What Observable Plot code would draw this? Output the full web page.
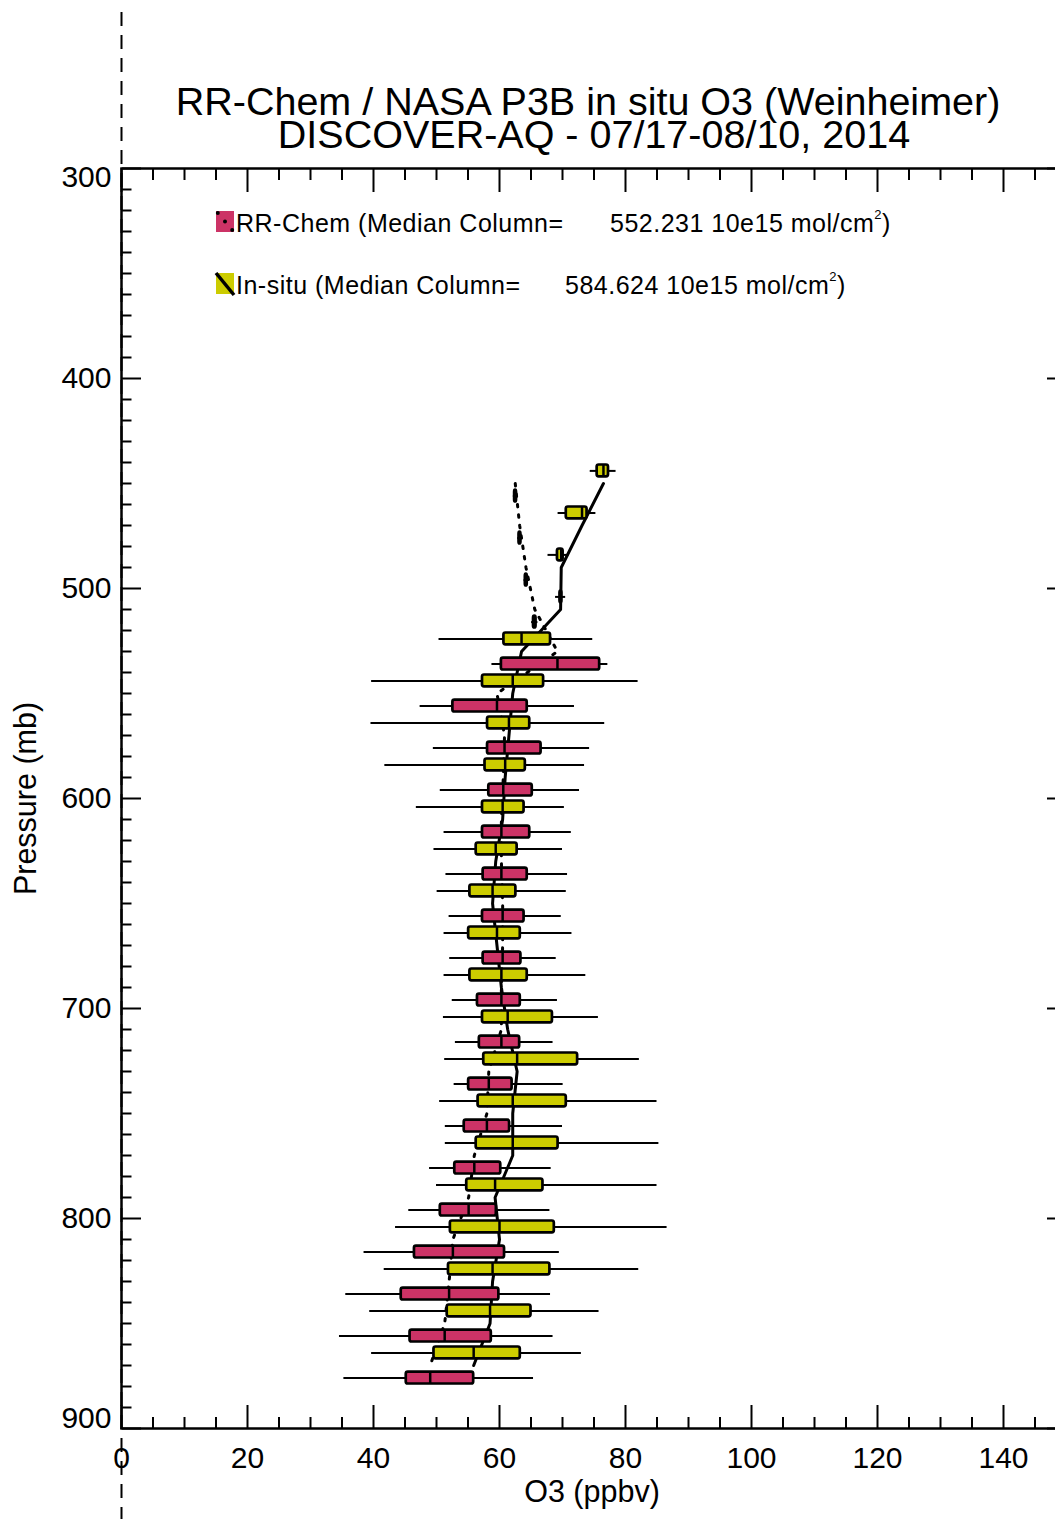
<!DOCTYPE html>
<html>
<head>
<meta charset="utf-8">
<script src="https://cdn.jsdelivr.net/npm/d3@7"></script>
<script src="https://cdn.jsdelivr.net/npm/@observablehq/plot@0.6"></script>
<style>
  html, body { margin: 0; padding: 0; background: #fff; overflow: hidden; }
  #chart svg { display: block; }
</style>
</head>
<body>
<div id="chart"></div>
<script>
// Pressure-bin centres (mb)
const binCenters = [450, 470, 490, 510, 530, 550, 570, 590, 610, 630, 650, 670, 690, 710, 730, 750, 770, 790, 810, 830, 850, 870];

// NASA P3B in-situ O3 (ppbv): whisker low, lower quartile, median, upper quartile, whisker high
const insituLow  = [74.4, 69.3, 67.7, 68.9, 50.4, 39.7, 39.6, 41.8, 46.8, 49.6, 50.1, 51.2, 51.2, 51.1, 51.3, 50.5, 51.4, 50.0, 43.5, 41.7, 39.4, 39.7];
const insituQ1   = [75.5, 70.6, 69.2, 69.6, 60.7, 57.3, 58.1, 57.7, 57.3, 56.3, 55.3, 55.1, 55.3, 57.3, 57.5, 56.6, 56.3, 54.8, 52.2, 51.9, 51.7, 49.6];
const insituMed  = [76.5, 73.1, 69.8, 69.7, 63.5, 62.1, 61.5, 60.9, 60.5, 59.4, 58.9, 59.6, 60.3, 61.3, 62.8, 62.1, 62.1, 59.3, 60.0, 58.9, 58.5, 55.9];
const insituQ3   = [77.3, 73.9, 70.1, 69.9, 68.1, 67.0, 64.8, 64.1, 63.9, 62.8, 62.6, 63.3, 64.4, 68.4, 72.4, 70.6, 69.3, 66.9, 68.7, 68.0, 65.0, 63.3];
const insituHigh = [78.5, 75.3, 71.0, 70.5, 74.8, 82.0, 76.7, 73.5, 70.3, 70.0, 70.6, 71.5, 73.7, 75.7, 82.2, 85.0, 85.3, 85.0, 86.6, 82.1, 75.8, 73.0];

// RR-Chem model O3 (ppbv) sampled along the flight tracks
const rrLow  = [62.2, 62.9, 63.9, 65.1, 58.8, 47.4, 49.5, 50.6, 51.2, 51.5, 52.0, 52.1, 52.5, 53.0, 52.8, 51.4, 48.9, 45.6, 38.5, 35.6, 34.6, 35.3];
const rrQ1   = [62.4, 63.1, 64.1, 65.4, 60.3, 52.6, 58.1, 58.3, 57.3, 57.4, 57.3, 57.4, 56.5, 56.8, 55.1, 54.4, 52.9, 50.6, 46.5, 44.4, 45.8, 45.2];
const rrMed  = [62.5, 63.2, 64.2, 65.6, 69.2, 59.6, 60.8, 60.6, 60.3, 60.3, 60.5, 60.5, 60.3, 60.3, 58.3, 58.0, 56.0, 55.1, 52.6, 52.0, 51.3, 49.0];
const rrQ3   = [62.7, 63.4, 64.4, 65.8, 75.9, 64.4, 66.6, 65.2, 64.8, 64.4, 63.9, 63.4, 63.3, 63.2, 62.0, 61.6, 60.2, 59.5, 60.8, 59.9, 58.7, 55.9];
const rrHigh = [62.8, 63.5, 64.5, 66.1, 77.2, 71.9, 74.3, 72.7, 71.4, 70.8, 69.8, 69.0, 69.2, 68.5, 70.1, 70.0, 68.2, 68.0, 69.5, 68.1, 68.5, 65.4];

// Legend text
const seriesNames = ["RR-Chem", "In-situ"];
const medianColumns = ["552.231", "584.624"];

// Axis ticks
const xMajor = [0, 20, 40, 60, 80, 100, 120, 140];
const xMinor = d3.range(0, 151, 5).filter(v => v % 20 !== 0);
const yMajor = [300, 400, 500, 600, 700, 800, 900];
const yMinor = d3.range(300, 901, 10).filter(v => v % 100 !== 0);

const titleLines = ["RR-Chem / NASA P3B in situ O3 (Weinheimer)", "DISCOVER-AQ - 07/17-08/10, 2014"];

const PINK = "#cc3366";
const YELLOW = "#cccc00";
const BOX_HALF = 2.8;   // half box height, mb
const PAIR_SHIFT = 6;   // each series' box sits this far from the bin centre, mb

function table(shift, lo, q1, med, q3, hi) {
  return binCenters.map((c, i) => ({center: c, p: c + shift, lo: lo[i], q1: q1[i], med: med[i], q3: q3[i], hi: hi[i]}));
}
const insitu = table(-PAIR_SHIFT, insituLow, insituQ1, insituMed, insituQ3, insituHigh);
const rrchem = table(+PAIR_SHIFT, rrLow, rrQ1, rrMed, rrQ3, rrHigh);

function boxMarks(data, fill) {
  return [
    Plot.ruleY(data, {y: "p", x1: "lo", x2: "hi", stroke: "black", strokeWidth: 2}),
    Plot.rect(data, {x1: "q1", x2: "q3", y1: d => d.p - BOX_HALF, y2: d => d.p + BOX_HALF,
      fill, stroke: "black", strokeWidth: 2.7, rx: 2}),
    Plot.ruleX(data, {x: "med", y1: d => d.p - BOX_HALF, y2: d => d.p + BOX_HALF, stroke: "black", strokeWidth: 2.5})
  ];
}

const tickStyle = {stroke: "black", strokeWidth: 2, fill: "none", label: null};

const chart = Plot.plot({
  width: 1055,
  height: 1519,
  marginLeft: 121,
  marginTop: 168,
  marginBottom: 91,
  marginRight: -11,
  style: {fontFamily: "'Liberation Sans', Arial, Helvetica, sans-serif", overflow: "hidden", background: "white", color: "black"},
  x: {domain: [0, 150]},
  y: {domain: [300, 900], reverse: true},
  marks: [
    // zero line carried above and below the frame as a dashed rule
    Plot.ruleX([0], {insetTop: -156, insetBottom: -91, stroke: "black", strokeWidth: 2, strokeDasharray: "14,9"}),

    // median profiles
    Plot.line(insitu, {x: "med", y: "center", stroke: "black", strokeWidth: 3}),
    Plot.line(rrchem, {x: "med", y: "center", stroke: "black", strokeWidth: 3, strokeDasharray: "2.5,8"}),

    // box-and-whisker per pressure bin
    ...boxMarks(insitu, YELLOW),
    ...boxMarks(rrchem, PINK),

    Plot.frame({stroke: "black", strokeWidth: 2.5}),

    // inward ticks on all four sides
    Plot.axisX(xMajor, {anchor: "top", frameAnchor: "bottom", tickSize: 24, ...tickStyle}),
    Plot.axisX(xMinor, {anchor: "top", frameAnchor: "bottom", tickSize: 12, ...tickStyle}),
    Plot.axisX(xMajor, {anchor: "bottom", frameAnchor: "top", tickSize: 24, ...tickStyle}),
    Plot.axisX(xMinor, {anchor: "bottom", frameAnchor: "top", tickSize: 12, ...tickStyle}),
    Plot.axisY(yMajor, {anchor: "right", frameAnchor: "left", tickSize: 19, ...tickStyle}),
    Plot.axisY(yMinor, {anchor: "right", frameAnchor: "left", tickSize: 9.5, ...tickStyle}),
    Plot.axisY(yMajor, {anchor: "left", frameAnchor: "right", tickSize: 19, ...tickStyle}),
    Plot.axisY(yMinor, {anchor: "left", frameAnchor: "right", tickSize: 9.5, ...tickStyle}),

    // tick labels
    Plot.text(xMajor, {x: d => d, text: d => String(d), frameAnchor: "bottom", lineAnchor: "bottom", dy: 39, fontSize: 30, fill: "black"}),
    Plot.text(yMajor.slice(1, -1), {y: d => d, text: d => String(d), frameAnchor: "left", textAnchor: "end", dx: -10, fontSize: 30, fill: "black"}),
    Plot.text(yMajor.slice(0, 1), {y: d => d, text: d => String(d), frameAnchor: "left", textAnchor: "end", dx: -10, dy: 9, fontSize: 30, fill: "black"}),
    Plot.text(yMajor.slice(-1), {y: d => d, text: d => String(d), frameAnchor: "left", textAnchor: "end", dx: -10, dy: -10.5, fontSize: 30, fill: "black"}),

    // axis titles
    Plot.text(["O3 (ppbv)"], {frameAnchor: "bottom", textAnchor: "middle", lineAnchor: "bottom", dy: 73, dx: -2, fontSize: 30.5, fill: "black"}),
    Plot.text(["Pressure (mb)"], {frameAnchor: "left", textAnchor: "middle", lineAnchor: "bottom", rotate: -90, dx: -86, fontSize: 30.5, fill: "black"}),

    // title
    Plot.text([titleLines[0]], {frameAnchor: "top", textAnchor: "middle", lineAnchor: "bottom", dy: -54, dx: -6, fontSize: 39.5, fill: "black"}),
    Plot.text([titleLines[1]], {frameAnchor: "top", textAnchor: "middle", lineAnchor: "bottom", dy: -21, fontSize: 39.5, fill: "black"})
  ]
});

// legend, drawn inside the plot frame near its top-left
const svg = d3.select(chart);
const legend = svg.append("g")
  .attr("font-size", 25).attr("letter-spacing", 0.5).attr("fill", "black").attr("text-anchor", "start");
const legendRows = [
  {name: seriesNames[0], value: medianColumns[0], fill: PINK, y: 232, valueX: 610, dotted: true},
  {name: seriesNames[1], value: medianColumns[1], fill: YELLOW, y: 294, valueX: 565, dotted: false}
];
for (const r of legendRows) {
  legend.append("rect").attr("x", 216).attr("y", r.y - 21).attr("width", 18).attr("height", 21).attr("fill", r.fill);
  if (r.dotted) {
    for (const t of [0.1, 0.5, 0.9]) {
      legend.append("circle").attr("cx", 216 + 18 * t).attr("cy", r.y - 21 + 21 * t).attr("r", 2).attr("fill", "black");
    }
  } else {
    legend.append("line").attr("x1", 216).attr("y1", r.y - 21).attr("x2", 234).attr("y2", r.y + 1)
      .attr("stroke", "black").attr("stroke-width", 3.5);
  }
  const t = legend.append("text").attr("x", 236).attr("y", r.y).attr("text-anchor", "start");
  t.append("tspan").text(`${r.name} (Median Column=`);
  t.append("tspan").attr("x", r.valueX).text(`${r.value} 10e15 mol/cm`);
  t.append("tspan").attr("font-size", 13).attr("dy", -13).text("2");
  t.append("tspan").attr("dy", 13).text(")");
}

document.getElementById("chart").appendChild(chart);
</script>
</body>
</html>
